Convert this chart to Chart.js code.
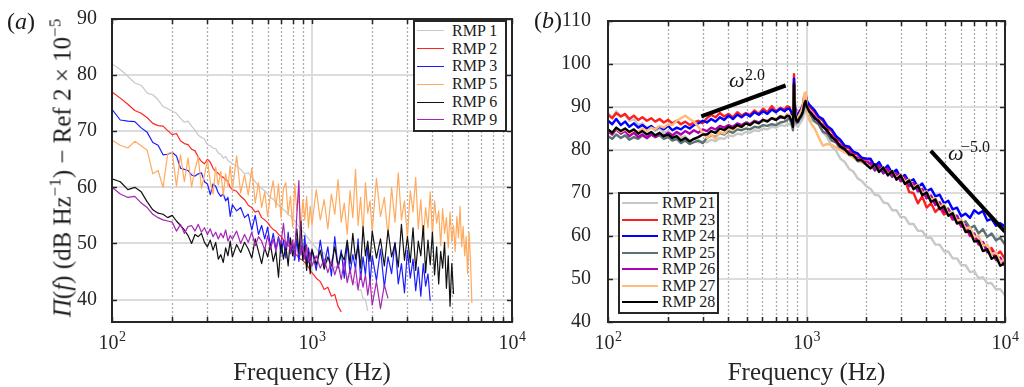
<!DOCTYPE html>
<html>
<head>
<meta charset="utf-8">
<script src="https://cdn.jsdelivr.net/npm/chart.js@4.4.1/dist/chart.umd.min.js"></script>
<style>
  html, body { margin: 0; padding: 0; background: #fff; }
  #page { position: relative; width: 1024px; height: 387px; overflow: hidden;
          font-family: 'Liberation Serif', 'Times New Roman', serif; color: #1a1a1a; }
  canvas { position: absolute; top: 0; }
  #chartA { left: 0; }
  #chartB { left: 520px; }
  .tag { position: absolute; font-size: 24px; line-height: 1; white-space: nowrap; }
  #ytitle { position: absolute; left: 62px; top: 168px; font-size: 25px; line-height: 1; white-space: nowrap;
            transform: translate(-50%, -50%) rotate(-90deg); }
  #ytitle sup { font-size: 17px; line-height: 0; vertical-align: 10px; }
  .legend { position: absolute; background: #fff; border: 2px solid #262626; box-sizing: border-box;
            font-size: 16px; }
  .legend .row { display: flex; align-items: center; line-height: 1; white-space: nowrap; }
  .legend .sw { display: inline-block; height: 0; }
  .om { position: absolute; font-style: italic; font-size: 22px; line-height: 1; }
  .omexp { position: absolute; font-size: 16px; line-height: 1; white-space: nowrap; }
</style>
</head>
<body>
<div id="page">
  <canvas id="chartA" width="540" height="387"></canvas>
  <canvas id="chartB" width="504" height="387"></canvas>

  <div class="tag" style="left:7px; top:9px">(<i>a</i>)</div>
  <div class="tag" style="left:534px; top:8px">(<i>b</i>)</div>
  <div id="ytitle"><i>Π</i>(<i>f</i>) (dB Hz<sup>−1</sup>) − Ref 2 × 10<sup>−5</sup></div>

  <div class="om" style="left:729px; top:69px">ω</div>
  <div class="omexp" style="left:745px; top:67px">2.0</div>
  <div class="om" style="left:948px; top:142px">ω</div>
  <div class="omexp" style="left:961px; top:139px">−5.0</div>

  <div id="legendA" class="legend" style="left:413px; top:20px; width:94px; padding-bottom:1px"></div>
  <div id="legendB" class="legend" style="left:618px; top:192px; width:101px; padding-top:1px; padding-bottom:1px"></div>
</div>

<script>
// —————— DATA: panel (a) ——————
const freqA = [
  100, 110, 120, 130, 140, 150, 160, 170, 180, 190, 200, 210, 220, 230, 240, 250, 260, 270, 280, 290,
  300, 310, 320, 330, 340, 350, 360, 370, 380, 390, 400,
  420, 440, 460, 480, 500, 520, 540, 560, 580, 600, 620, 640, 660, 680, 700, 720, 740, 760, 780, 800,
  820, 840, 860, 880, 900, 920, 940, 960, 980, 1000,
  1050, 1100, 1150, 1200, 1250, 1300, 1350, 1400, 1450, 1500, 1550, 1600, 1650, 1700, 1750, 1800, 1850, 1900, 1950, 2000,
  2100, 2200, 2300, 2400, 2500, 2600, 2700, 2800, 2900, 3000, 3100, 3200, 3300, 3400, 3500, 3600, 3700, 3800, 3900, 4000,
  4100, 4200, 4300, 4400, 4500, 4600, 4700, 4800, 4900, 5000, 5100, 5200, 5300, 5400, 5500, 5600, 5700, 5800, 5900, 6000,
  6100, 6200, 6300
];

const rmp1 = [
  82.0, 81.0, 79.8, 78.6, 78.2, 76.8, 76.5, 75.6, 74.4, 74.0,
  73.6, 73.2, 72.3, 71.6, 71.8, 70.9, 70.2, 69.3, 68.9, 68.6,
  67.6, 67.4, 67.0, 66.9, 66.1, 65.9, 65.2, 65.5, 64.8, 64.5, 64.2,
  63.8, 63.2, 62.4, 62.6, 61.8, 61.0, 60.2, 59.8, 59.4, 58.8,
  58.2, 57.9, 57.3, 56.8, 56.4, 56.0, 55.7, 55.1, 54.9, 54.4,
  54.0, 53.6, 53.0, 52.6, 52.2, 51.8, 51.2, 50.9, 50.4, 50.0,
  49.2, 48.0, 48.4, 46.8, 47.2, 45.6, 46.2, 44.8, 45.2, 44.0,
  44.2, 42.8, 43.2, 41.6, 41.8, 40.2, 40.0, 38.0
];
const rmp2 = [
  77.0, 75.9, 74.8, 73.7, 73.2, 72.4, 71.4, 71.0, 70.9, 70.1,
  69.4, 69.6, 68.3, 67.8, 67.6, 66.8, 66.5, 65.4, 64.6, 64.2,
  65.0, 64.5, 63.4, 62.8, 62.5, 62.0, 61.8, 61.3, 61.1, 60.0, 59.6,
  59.3, 58.4, 57.8, 56.8, 56.4, 55.6, 55.8, 54.6, 54.2, 53.7,
  53.0, 52.5, 52.2, 51.6, 51.3, 50.6, 50.2, 49.6, 49.3, 48.6,
  48.2, 47.9, 47.4, 47.2, 47.0, 46.6, 46.3, 45.8, 45.2, 44.8,
  43.8, 43.2, 41.8, 42.2, 40.6, 40.9, 38.8, 37.8
];
const rmp3 = [
  73.9, 72.0, 71.8, 71.7, 70.6, 69.8, 68.0, 67.5, 65.8, 65.9,
  66.2, 65.6, 63.4, 63.2, 63.0, 62.2, 62.0, 62.4, 62.6, 61.0,
  60.6, 58.7, 60.6, 60.2, 59.0, 58.4, 58.8, 57.6, 58.2, 54.8, 56.9,
  55.8, 56.4, 54.6, 55.2, 52.4, 55.0, 51.6, 53.2, 50.8, 52.9,
  49.4, 51.8, 49.0, 51.2, 48.2, 50.6, 47.4, 52.0, 48.2, 49.8,
  47.0, 50.9, 46.8, 49.6, 47.2, 51.4, 46.4, 49.2, 47.0, 48.8,
  45.2, 50.6, 46.0, 49.4, 44.2, 51.2, 45.6, 48.8, 43.8, 50.2,
  44.6, 48.0, 45.4, 50.8, 43.6, 47.6, 44.4, 49.6, 42.8, 47.8,
  43.4, 49.0, 42.2, 47.6, 44.6, 50.2, 42.8, 46.4, 41.2, 48.8,
  43.8, 47.2, 41.6, 45.8, 40.6, 46.4, 42.4, 44.6, 39.8
];
const rmp5 = [
  68.4, 67.5, 67.0, 68.2, 67.4, 66.6, 62.4, 63.0, 60.0, 66.0,
  66.3, 60.2, 65.8, 61.0, 65.2, 60.1, 63.2, 65.4, 59.8, 62.2,
  64.8, 61.0, 58.8, 63.6, 60.4, 62.8, 58.6, 62.4, 60.2, 63.8, 59.6,
  65.6, 59.0, 62.2, 58.6, 63.4, 57.2, 60.8, 56.4, 59.2, 54.8,
  58.6, 61.2, 56.4, 60.6, 54.6, 59.8, 60.8, 55.2, 58.4, 53.0,
  60.6, 55.8, 58.6, 52.4, 57.8, 54.2, 58.4, 52.8, 56.6, 53.4,
  59.6, 54.2, 57.8, 52.6, 58.8, 55.2, 61.4, 53.8, 57.2, 51.6,
  59.4, 54.6, 63.2, 53.2, 58.2, 51.8, 60.8, 55.4, 57.6, 52.2,
  61.6, 54.8, 58.2, 51.4, 60.0, 53.8, 62.6, 54.2, 57.6, 51.0,
  59.4, 55.6, 61.8, 52.6, 57.8, 50.6, 56.4, 52.8, 59.2, 51.4,
  57.6, 53.6, 55.8, 49.6, 56.2, 51.8, 54.6, 49.2, 55.6, 50.4,
  53.2, 48.6, 54.8, 51.0, 56.6, 49.4, 53.0, 47.8, 51.2, 44.6,
  52.0, 47.0, 39.4
];
const rmp6 = [
  61.5, 61.0, 59.6, 60.0, 59.2, 57.4, 56.0, 55.4, 55.2, 54.6,
  55.0, 54.0, 53.2, 52.4, 51.4, 50.0, 51.6, 51.2, 51.8, 50.2,
  49.4, 50.6, 48.8, 50.2, 47.2, 48.0, 46.6, 49.2, 47.8, 50.4, 47.6,
  49.8, 48.4, 50.2, 49.0, 47.4, 50.8, 48.6, 46.4, 49.2, 47.6,
  49.8, 46.8, 48.6, 44.0, 50.4, 47.2, 49.6, 46.0, 51.0, 47.8,
  49.4, 52.6, 48.2, 54.0, 47.0, 49.6, 45.2, 48.4, 44.6, 49.0,
  46.2, 48.8, 45.4, 47.6, 46.0, 49.4, 45.8, 48.2, 47.0, 50.6,
  46.4, 51.8, 47.2, 49.6, 45.6, 53.0, 47.8, 50.4, 46.8, 52.2,
  47.4, 50.8, 46.0, 52.4, 47.6, 50.0, 45.8, 53.4, 47.0, 51.2,
  46.6, 52.8, 45.2, 50.4, 47.8, 53.2, 44.8, 50.6, 46.2, 52.0,
  44.4, 49.4, 42.8, 48.6, 45.6, 50.2, 42.0, 47.8, 38.8, 46.4,
  41.0
];
const rmp9 = [
  60.0, 58.8, 58.2, 58.4, 57.2, 56.4, 55.2, 54.6, 54.2, 54.0,
  53.8, 52.2, 53.4, 51.8, 53.0, 53.2, 52.2, 53.4, 52.0, 52.8,
  51.6, 52.6, 51.2, 52.0, 50.8, 51.8, 51.0, 52.4, 50.4, 51.4, 50.8,
  52.2, 50.0, 51.6, 50.2, 52.0, 49.6, 51.2, 50.4, 48.8, 51.4,
  49.0, 50.8, 48.6, 51.0, 50.0, 53.6, 49.2, 51.0, 48.4, 50.6,
  47.8, 55.2, 61.2, 48.0, 49.4, 47.2, 49.8, 46.6, 48.4, 46.0,
  47.8, 45.6, 47.2, 44.8, 46.8, 44.4, 46.4, 43.6, 46.8, 43.0,
  45.4, 42.6, 45.8, 41.8, 44.6, 42.2, 44.4, 40.8, 43.6, 39.0,
  43.2, 38.4, 42.6, 40.2
];

// —————— DATA: panel (b) ——————
const freqB = [
  100, 105, 110, 116, 122, 128, 135, 142, 149, 157, 165, 173, 182, 191, 201, 211, 222, 233, 245, 258,
  271, 285, 300,
  315, 331, 348, 366, 385, 405, 426, 448, 471, 495, 520, 547, 575, 604, 635, 668, 702, 738, 776, 800,
  820, 840, 855, 865, 875, 890, 905, 920, 940, 960, 975, 990, 1005, 1030, 1060,
  1100, 1150, 1210, 1270, 1340, 1410, 1480, 1560, 1640, 1720, 1810, 1900, 2000,
  2100, 2210, 2320, 2440, 2570, 2700, 2840, 2980, 3130, 3290, 3460, 3640, 3830, 4030, 4240, 4460,
  4690, 4930, 5180, 5450, 5730, 6020, 6330, 6660, 7000, 7360, 7740, 8140, 8560, 9000, 9460, 10000
];

const rmp21 = [
  88.6, 87.6, 89.0, 87.8, 88.2, 86.8, 87.2, 85.8, 86.2, 85.0, 85.4, 84.4, 85.0, 84.0, 84.4, 83.4, 83.8, 82.8, 83.2, 82.2,
  82.6, 81.8, 82.0,
  81.8, 82.4, 82.0, 82.8, 82.6, 83.4, 83.2, 83.8, 83.6, 84.2, 84.0, 84.6, 84.4, 85.0, 84.8, 85.4, 85.2, 85.8, 85.6, 86.0,
  86.0, 85.8, 85.2, 90.0, 87.0, 85.6, 85.4, 86.0, 86.6, 87.4, 88.8, 89.2, 88.2, 87.4, 86.8,
  86.8, 86.0, 84.2, 83.0, 80.8, 79.8, 78.0, 77.2, 75.6, 75.0, 73.4, 72.8, 71.6,
  71.0, 69.6, 69.4, 67.8, 67.6, 66.0, 66.0, 64.4, 64.4, 62.8, 62.8, 61.2, 61.2, 59.6, 59.6, 58.0,
  58.0, 56.4, 56.4, 54.8, 54.8, 53.2, 53.2, 51.6, 51.8, 50.2, 50.4, 49.0, 49.0, 47.6, 47.6, 46.2
];
const rmp23 = [
  88.2, 87.4, 88.6, 87.8, 88.4, 87.2, 88.0, 87.0, 87.6, 86.8, 87.4, 86.6, 87.2, 86.4, 87.0, 86.2, 86.8, 86.0, 86.6, 85.8,
  86.4, 86.8, 86.2,
  87.4, 88.2, 87.6, 88.6, 87.8, 88.4, 87.6, 88.8, 88.0, 88.6, 88.2, 89.2, 88.4, 89.6, 88.8, 90.2, 89.0, 89.8, 89.4, 90.2,
  90.0, 88.6, 87.0, 97.6, 90.2, 88.0, 88.4, 89.0, 89.6, 90.6, 92.8, 93.2, 91.2, 90.2, 89.6,
  88.8, 87.6, 86.8, 85.2, 84.4, 82.8, 82.0, 80.6, 80.4, 79.0, 79.0, 77.8, 77.8,
  77.8, 76.0, 77.0, 75.0, 76.0, 74.2, 75.0, 72.8, 73.2, 70.2, 70.0, 67.6, 69.2, 66.6, 67.6, 65.6,
  66.6, 65.0, 65.6, 63.8, 64.0, 62.2, 62.2, 60.0, 60.2, 58.0, 58.4, 56.6, 57.2, 55.6, 56.4, 54.6
];
const rmp24 = [
  86.8, 86.0, 87.2, 85.8, 86.6, 85.4, 86.2, 85.2, 85.8, 85.0, 85.6, 84.8, 85.4, 84.8, 85.6, 84.6, 85.2, 84.8, 85.6, 85.0,
  85.8, 86.2, 86.8,
  86.4, 87.2, 86.6, 87.6, 87.0, 88.0, 87.2, 88.2, 87.6, 88.4, 87.8, 88.8, 88.2, 89.0, 88.4, 89.4, 88.8, 89.6, 89.0, 89.6,
  89.6, 88.8, 87.2, 96.6, 90.0, 88.2, 88.0, 88.8, 89.4, 90.4, 92.4, 92.6, 91.4, 90.6, 90.0,
  89.2, 87.8, 87.2, 85.6, 84.8, 83.2, 82.4, 81.0, 80.8, 79.6, 79.2, 78.2, 78.0,
  78.0, 76.2, 77.2, 75.4, 76.4, 74.6, 75.4, 73.6, 74.2, 72.6, 73.2, 71.4, 72.2, 70.4, 71.0, 69.2,
  69.6, 67.6, 68.2, 66.2, 66.6, 64.6, 65.2, 64.2, 66.0, 65.2, 65.8, 63.6, 64.0, 62.4, 63.0, 62.2
];
const rmp25 = [
  83.2, 82.6, 83.6, 82.8, 83.4, 82.4, 83.0, 82.6, 83.4, 82.8, 83.6, 83.0, 83.4, 82.6, 83.0, 82.2, 82.6, 81.6, 82.2, 81.4,
  81.8, 82.2, 81.6,
  82.8, 83.4, 83.0, 84.0, 83.6, 84.4, 84.0, 84.8, 84.6, 85.0, 84.8, 85.4, 85.2, 85.8, 85.6, 86.0, 85.8, 86.4, 86.6, 87.0,
  87.4, 86.2, 84.6, 94.2, 88.0, 86.2, 86.4, 87.0, 87.6, 88.6, 90.4, 90.8, 89.4, 88.4, 87.8,
  86.6, 86.0, 84.2, 83.8, 82.2, 81.8, 80.2, 80.0, 78.8, 78.6, 77.4, 77.4, 76.6,
  76.8, 75.2, 76.0, 74.6, 75.2, 73.8, 74.4, 72.8, 73.4, 71.6, 72.2, 70.4, 70.8, 68.8, 69.2, 67.4,
  67.8, 66.0, 66.4, 64.4, 64.8, 62.8, 63.4, 61.8, 62.4, 60.6, 61.6, 59.8, 60.6, 59.0, 59.6, 58.0
];
const rmp26 = [
  84.4, 83.6, 84.8, 83.8, 84.4, 83.2, 84.0, 83.0, 83.6, 82.8, 83.6, 83.0, 83.8, 83.2, 84.0, 83.4, 84.2, 83.6, 84.4, 83.8,
  84.6, 84.0, 84.8,
  84.4, 85.2, 84.8, 85.6, 85.2, 85.8, 85.4, 86.2, 85.8, 86.4, 86.0, 86.8, 86.4, 87.0, 86.8, 87.4, 87.0, 87.6, 87.4, 88.0,
  88.0, 87.2, 85.8, 95.2, 88.8, 87.0, 87.2, 87.8, 88.4, 89.4, 91.4, 91.8, 90.2, 89.2, 88.6,
  87.8, 86.4, 85.8, 84.2, 83.4, 81.8, 81.2, 79.8, 79.6, 78.4, 78.2, 77.2, 77.2,
  77.0, 75.4, 76.4, 74.6, 75.6, 73.8, 74.6, 72.8, 73.6, 71.6, 72.4, 70.4, 71.0, 68.8, 69.4, 67.2,
  67.8, 65.6, 66.2, 64.0, 64.6, 62.2, 62.6, 60.2, 60.6, 58.2, 58.6, 56.2, 56.6, 54.4, 55.0, 53.0
];
const rmp27 = [
  84.6, 84.0, 85.0, 84.2, 84.8, 84.0, 84.6, 84.2, 85.0, 84.4, 85.2, 84.8, 85.6, 85.2, 86.0, 85.8, 86.8, 87.4, 88.0, 87.2,
  86.6, 85.4, 84.0,
  82.8, 83.6, 82.6, 84.2, 83.8, 85.0, 84.6, 85.6, 85.2, 86.2, 85.8, 86.6, 86.2, 87.0, 86.8, 87.4, 87.2, 88.0, 87.6, 88.4,
  88.2, 87.6, 86.2, 94.6, 89.2, 87.2, 87.4, 88.2, 89.0, 90.4, 93.0, 93.4, 90.2, 87.0, 86.0,
  85.0, 83.0, 81.0, 81.4, 81.2, 80.6, 80.0, 79.4, 79.0, 78.2, 77.8, 77.0, 76.8,
  75.8, 76.6, 75.0, 76.0, 74.2, 75.2, 73.4, 74.4, 72.6, 73.2, 71.2, 72.0, 70.0, 70.4, 68.4, 68.8,
  66.8, 67.4, 65.2, 65.6, 63.6, 63.8, 61.8, 62.0, 59.8, 60.0, 57.8, 58.0, 55.8, 56.2, 54.0, 54.6
];
const rmp28 = [
  84.8, 84.0, 85.2, 84.4, 85.0, 84.2, 84.8, 83.8, 84.4, 83.6, 84.2, 83.4, 84.0, 83.2, 83.6, 82.8, 83.2, 82.2, 82.8, 82.0,
  82.6, 83.0, 83.6,
  83.6, 84.4, 84.0, 85.0, 84.6, 85.4, 85.0, 85.8, 85.4, 86.2, 85.8, 86.6, 86.2, 87.0, 86.6, 87.4, 87.0, 87.8, 87.4, 88.0,
  87.8, 86.8, 85.4, 95.4, 88.6, 86.8, 86.6, 87.4, 88.0, 89.0, 90.8, 91.4, 90.0, 89.0, 88.4,
  87.4, 86.8, 85.4, 84.6, 83.0, 82.2, 80.8, 80.2, 79.0, 78.8, 77.6, 77.6, 76.6,
  75.7, 76.7, 74.9, 75.9, 74.1, 75.1, 73.1, 74.1, 72.1, 72.9, 70.9, 71.7, 69.5, 70.1, 67.9, 68.5,
  66.3, 66.9, 64.7, 65.3, 62.9, 63.3, 60.9, 61.1, 58.7, 58.9, 56.5, 56.9, 54.7, 55.3, 53.1, 53.7
];

// slope guide lines in panel (b)
const slopeUpX = [295, 785];
const slopeUpY = [87.8, 95.0];
const slopeDownX = [4230, 10000];
const slopeDownY = [79.8, 61.0];

const yTicksA = [40, 50, 60, 70, 80, 90];
const yTicksB = [40, 50, 60, 70, 80, 90, 100, 110];
const xTitle = 'Frequency (Hz)';

// —————— STYLE TABLES ——————
const seriesA = [
  { label: 'RMP 1', values: rmp1, color: '#c8c8c8' },
  { label: 'RMP 2', values: rmp2, color: '#ff2424' },
  { label: 'RMP 3', values: rmp3, color: '#1c1cff' },
  { label: 'RMP 5', values: rmp5, color: '#ffaa5e' },
  { label: 'RMP 6', values: rmp6, color: '#111111' },
  { label: 'RMP 9', values: rmp9, color: '#a526b4' }
];
const seriesB = [
  { label: 'RMP 21', values: rmp21, color: '#c8c8c8' },
  { label: 'RMP 23', values: rmp23, color: '#ff1e1e' },
  { label: 'RMP 24', values: rmp24, color: '#0000ff' },
  { label: 'RMP 25', values: rmp25, color: '#5b7272' },
  { label: 'RMP 26', values: rmp26, color: '#b000b0' },
  { label: 'RMP 27', values: rmp27, color: '#ffbb78' },
  { label: 'RMP 28', values: rmp28, color: '#000000' }
];

const fontFamily = "'Liberation Serif', 'Times New Roman', serif";

function decades(min, max) {
  const major = [], minor = [];
  for (let d = min; d <= max * 1.0001; d *= 10) {
    major.push(d);
    if (d < max) for (let k = 2; k <= 9; k++) minor.push(d * k);
  }
  return { major, minor };
}

function vline(ctx, x, y0, y1) { ctx.beginPath(); ctx.moveTo(x, y0); ctx.lineTo(x, y1); ctx.stroke(); }
function hline(ctx, y, x0, x1) { ctx.beginPath(); ctx.moveTo(x0, y); ctx.lineTo(x1, y); ctx.stroke(); }

function drawPower(ctx, px, base, exp) {
  ctx.font = `20px ${fontFamily}`;
  const w1 = ctx.measureText('10').width;
  ctx.font = `14px ${fontFamily}`;
  const w2 = ctx.measureText(exp).width;
  const left = px - (w1 + w2) / 2;
  ctx.textAlign = 'left';
  ctx.textBaseline = 'alphabetic';
  ctx.font = `20px ${fontFamily}`;
  ctx.fillText('10', left, base);
  ctx.font = `14px ${fontFamily}`;
  ctx.fillText(exp, left + w1 + 0.5, base - 8);
}

// —————— MATLAB-like frame, grid and tick labels ——————
const matlabFrame = {
  id: 'matlabFrame',
  beforeDatasetsDraw(chart) {
    const { ctx, chartArea: a, scales: { x, y } } = chart;
    const { major, minor } = decades(x.min, x.max);
    ctx.save();
    ctx.lineWidth = 1.3;
    ctx.strokeStyle = '#ababab';
    ctx.setLineDash([2, 2]);
    minor.forEach(v => vline(ctx, Math.round(x.getPixelForValue(v)) + 0.5, a.top, a.bottom));
    ctx.setLineDash([]);
    ctx.lineWidth = 2;
    ctx.strokeStyle = '#dcdcdc';
    major.forEach(v => vline(ctx, Math.round(x.getPixelForValue(v)), a.top, a.bottom));
    y.ticks.forEach(t => hline(ctx, Math.round(y.getPixelForValue(t.value)), a.left, a.right));
    ctx.restore();
  },
  afterDatasetsDraw(chart) {
    const { ctx, chartArea: a, scales: { x, y } } = chart;
    const { major, minor } = decades(x.min, x.max);
    ctx.save();
    ctx.strokeStyle = '#262626';
    ctx.lineWidth = 1.5;
    major.concat(minor).forEach(v => {
      const px = Math.round(x.getPixelForValue(v)) + 0.5;
      vline(ctx, px, a.bottom, a.bottom - 5);
      vline(ctx, px, a.top, a.top + 5);
    });
    y.ticks.forEach(t => {
      const py = Math.round(y.getPixelForValue(t.value)) + 0.5;
      hline(ctx, py, a.left, a.left + 5);
      hline(ctx, py, a.right, a.right - 5);
    });
    ctx.lineWidth = 2;
    ctx.strokeRect(a.left, a.top, a.right - a.left, a.bottom - a.top);

    ctx.fillStyle = '#262626';
    major.forEach(v => drawPower(ctx, x.getPixelForValue(v), 349, String(Math.round(Math.log10(v)))));
    ctx.font = `25px ${fontFamily}`;
    ctx.textAlign = 'center';
    ctx.textBaseline = 'alphabetic';
    ctx.fillText(xTitle, (a.left + a.right) / 2, 380);
    ctx.restore();
  }
};

function buildDatasets(freqs, series, lineWidth) {
  return series.map((s, i) => ({
    label: s.label,
    data: s.values.map((v, k) => ({ x: freqs[k], y: v })),
    borderColor: s.color,
    backgroundColor: s.color,
    borderWidth: lineWidth,
    borderJoinStyle: 'round',
    pointRadius: 0,
    showLine: true,
    order: series.length - i + 1   // later series on top, as in the original
  }));
}

function slopeDataset(xs, ys) {
  return {
    label: '',
    data: xs.map((x, k) => ({ x, y: ys[k] })),
    borderColor: '#000',
    borderWidth: 4,
    pointRadius: 0,
    showLine: true,
    order: 0
  };
}

function makeChart(id, datasets, opt) {
  return new Chart(document.getElementById(id), {
    type: 'scatter',
    data: { datasets },
    options: {
      responsive: false,
      animation: false,
      devicePixelRatio: 1,
      layout: { padding: { left: 0, right: opt.padRight, top: opt.padTop, bottom: 0 } },
      plugins: { legend: { display: false }, tooltip: { enabled: false } },
      scales: {
        x: {
          type: 'logarithmic',
          min: 100,
          max: 10000,
          grid: { display: false },
          border: { display: false },
          ticks: { display: false },
          afterFit: s => { s.height = 65; }
        },
        y: {
          min: opt.yMin,
          max: opt.yMax,
          grid: { display: false },
          border: { display: false },
          ticks: {
            color: '#262626',
            padding: opt.tickPad,
            font: { family: fontFamily, size: 20 }
          },
          afterBuildTicks: s => { s.ticks = opt.yTicks.map(v => ({ value: v })); },
          afterFit: s => { s.width = opt.yWidth; }
        }
      }
    },
    plugins: [matlabFrame]
  });
}

function buildLegend(id, series, rowH, swW, swGap, swLine) {
  const box = document.getElementById(id);
  box.innerHTML = series.map(s =>
    `<div class="row" style="height:${rowH}px">` +
    `<span class="sw" style="width:${swW}px; border-top:${swLine}px solid ${s.color}; margin:0 ${swGap}px 0 2px"></span>` +
    `${s.label}</div>`
  ).join('');
}

// —————— PANEL (a) ——————
makeChart('chartA', buildDatasets(freqA, seriesA, 1.2), {
  padRight: 28, padTop: 14, yMin: 36, yMax: 90, yTicks: yTicksA, yWidth: 112, tickPad: 7
});

// —————— PANEL (b) ——————
makeChart('chartB',
  buildDatasets(freqB, seriesB, 2.4).concat([slopeDataset(slopeUpX, slopeUpY), slopeDataset(slopeDownX, slopeDownY)]),
  { padRight: 19, padTop: 16, yMin: 40, yMax: 110, yTicks: yTicksB, yWidth: 88, tickPad: 9 }
);

buildLegend('legendA', seriesA, 17.8, 27, 8, 1.5);
buildLegend('legendB', seriesB, 16.5, 36, 4, 2.5);
</script>
</body>
</html>
